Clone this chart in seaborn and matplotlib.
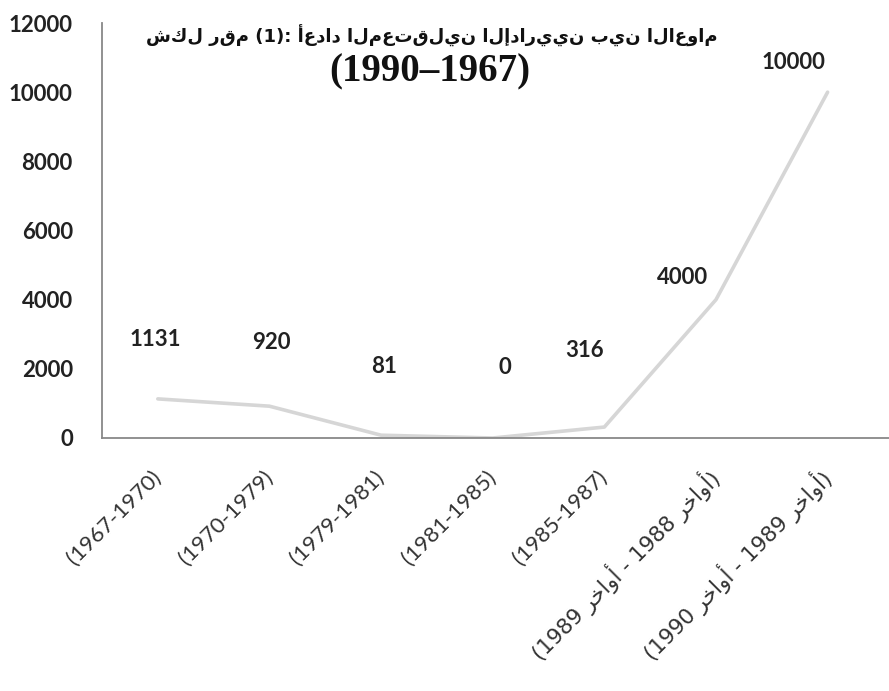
import matplotlib
matplotlib.use("Agg")
import matplotlib.pyplot as plt
import seaborn as sns
import pandas as pd

# ---------------- data ----------------
periods = ["(1967-1970)", "(1970-1979)", "(1979-1981)", "(1981-1985)",
           "(1985-1987)", "(أواخر 1988 - أواخر 1989)", "(أواخر 1989 - أواخر 1990)"]
detainees = [1131, 920, 81, 0, 316, 4000, 10000]
y_ticks = [0, 2000, 4000, 6000, 8000, 10000, 12000]
title_line1 = "شكل رقم (1): أعداد المعتقلين الإداريين بين الاعوام"
title_line2 = "(1990–1967)"

# ---- minimal Arabic shaping for rotated labels (presentation forms) ----
FORMS = {
    'ا': ('\uFE8D', '\uFE8E', None, None),
    'أ': ('\uFE83', '\uFE84', None, None),
    'إ': ('\uFE87', '\uFE88', None, None),
    'ب': ('\uFE8F', '\uFE90', '\uFE91', '\uFE92'),
    'ت': ('\uFE95', '\uFE96', '\uFE97', '\uFE98'),
    'خ': ('\uFEA5', '\uFEA6', '\uFEA7', '\uFEA8'),
    'د': ('\uFEA9', '\uFEAA', None, None),
    'ر': ('\uFEAD', '\uFEAE', None, None),
    'ش': ('\uFEB5', '\uFEB6', '\uFEB7', '\uFEB8'),
    'ع': ('\uFEC9', '\uFECA', '\uFECB', '\uFECC'),
    'ق': ('\uFED5', '\uFED6', '\uFED7', '\uFED8'),
    'ك': ('\uFED9', '\uFEDA', '\uFEDB', '\uFEDC'),
    'ل': ('\uFEDD', '\uFEDE', '\uFEDF', '\uFEE0'),
    'م': ('\uFEE1', '\uFEE2', '\uFEE3', '\uFEE4'),
    'ن': ('\uFEE5', '\uFEE6', '\uFEE7', '\uFEE8'),
    'و': ('\uFEED', '\uFEEE', None, None),
    'ي': ('\uFEF1', '\uFEF2', '\uFEF3', '\uFEF4'),
}
LAMALEF = {'ا': ('\uFEFB', '\uFEFC'), 'أ': ('\uFEF7', '\uFEF8'), 'إ': ('\uFEF9', '\uFEFA')}


def shape_word(w):
    res, prev_joins, i, n = [], False, 0, len(w)
    while i < n:
        c = w[i]
        nxt = w[i + 1] if i + 1 < n else None
        if c not in FORMS:
            res.append(c); prev_joins = False; i += 1; continue
        if c == 'ل' and nxt in LAMALEF:
            iso, fin = LAMALEF[nxt]
            res.append(fin if prev_joins else iso)
            prev_joins = False; i += 2; continue
        iso, fin, ini, med = FORMS[c]
        if ini is not None and nxt in FORMS:
            res.append(med if prev_joins else ini); prev_joins = True
        else:
            res.append(fin if prev_joins else iso); prev_joins = False
        i += 1
    return ''.join(reversed(res))


def is_arabic(s):
    return any('\u0600' <= ch <= '\u06FF' for ch in s)


def display_label(text):
    if not is_arabic(text):
        return text
    toks = [shape_word(t) if is_arabic(t) else t for t in text.strip('()').split()]
    return '(' + ' '.join(reversed(toks)) + ')'


x_labels = [display_label(p) for p in periods]

# ---------------- figure ----------------
sns.set_theme(style="white")
plt.rcParams['font.family'] = ['Lato', 'DejaVu Sans']

W, H = 889, 691
fig = plt.figure(figsize=(W / 100, H / 100), dpi=100)
left, right = 102 / W, 889 / W
bottom, top = 1 - 438 / H, 1 - 23 / H
ax = fig.add_axes([left, bottom, right - left, top - bottom])

df = pd.DataFrame({"period": x_labels, "count": detainees})
sns.lineplot(data=df, x="period", y="count", sort=False, color="#d6d6d6",
             linewidth=2.6, ax=ax)

n = len(x_labels)
ax.set_xlim(-0.5, n - 0.5 + 0.05)
ax.set_ylim(y_ticks[0], y_ticks[-1])
ax.set_yticks(y_ticks)
ax.set_yticklabels([str(v) for v in y_ticks], fontsize=16, fontweight='bold',
                   color='#222222', family='Lato')
ax.set_xticks(range(n))
ax.set_xticklabels(x_labels, rotation=45, ha='right', va='center',
                   rotation_mode='anchor', fontsize=16, color='#333333')
for lab, raw in zip(ax.get_xticklabels(), periods):
    lab.set_family('DejaVu Sans' if is_arabic(raw) else 'Lato')
    if is_arabic(raw):
        lab.set_fontsize(15.5)
ax.set_xticks([i - 0.5 for i in range(n + 1)], minor=True)
ax.tick_params(axis='x', which='major', length=0, pad=26)
ax.tick_params(axis='x', which='minor', length=6, width=1.2, color='#888888', direction='out')
ax.tick_params(axis='y', length=6, width=1.2, color='#888888', direction='out', pad=15)
ax.set_xlabel("")
ax.set_ylabel("")

for s in ['top', 'right']:
    ax.spines[s].set_visible(False)
for s in ['left', 'bottom']:
    ax.spines[s].set_color('#888888')
    ax.spines[s].set_linewidth(1.3)

# data labels (offsets in pixels, matching reference placement)
label_offsets = [(-3, 59), (2, 64), (3, 69), (12, 70), (-20, 77), (-33, 22), (-34, 30)]
for i, (v, off) in enumerate(zip(detainees, label_offsets)):
    ax.annotate(str(v), xy=(i, v), xytext=off, textcoords='offset pixels',
                ha='center', va='center', fontsize=16, fontweight='bold',
                color='#222222', family='Lato')

fig.text(432 / W, 1 - 36 / H, title_line1, ha='center', va='center',
         fontsize=13, fontweight='bold', color='#111111', family='DejaVu Sans')
fig.text(430 / W, 1 - 72 / H, title_line2, ha='center', va='center',
         fontsize=28, fontweight='bold', color='#111111', family='Liberation Serif')

fig.savefig("out.png", dpi=100)
